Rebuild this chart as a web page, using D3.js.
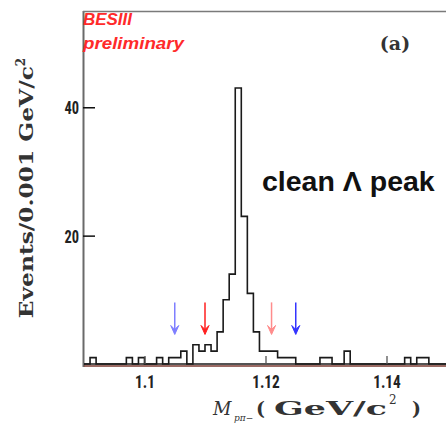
<!DOCTYPE html>
<html><head><meta charset="utf-8">
<script src="https://cdn.jsdelivr.net/npm/d3@7"></script>
<style>body{margin:0;background:#fff}</style>
</head><body><svg id="c" width="446" height="425"></svg>
<script>
// ---- data ----
const binStarts = [1.090,1.091,1.092,1.093,1.094,1.095,1.096,1.097,1.098,1.099,
                   1.100,1.101,1.102,1.103,1.104,1.105,1.106,1.107,1.108,1.109,
                   1.110,1.111,1.112,1.113,1.114,1.115,1.116,1.117,1.118,1.119,
                   1.120,1.121,1.122,1.123,1.124,1.125,1.126,1.127,1.128,1.129,
                   1.130,1.131,1.132,1.133,1.134,1.135,1.136,1.137,1.138,1.139,
                   1.140,1.141,1.142,1.143,1.144,1.145,1.146,1.147,1.148,1.149];
const counts    = [0,1,0,0,0,0,0,1,0,1,
                   0,0,1,0,1,1,2,0,3,2,
                   3,2,5,10,14,43,23,11,5,2,
                   2,2,1,1,1,0,0,0,0,1,
                   1,0,0,2,0,0,0,0,0,0,
                   0,0,0,1,0,1,1,0,0,0];
const binWidth = 0.001;
const xTicks = [1.10, 1.12, 1.14];
const xTickLabels = ["1.1", "1.12", "1.14"];
const yTicks = [20, 40];
const arrowX = [1.105, 1.110, 1.121, 1.125];
const arrowColors = ["#7f7fff", "#ff1f1f", "#ff8c8c", "#3434ff"];
const arrowTop = 9.6, arrowBottom = 4.6;

// ---- layout ----
const svg = d3.select("#c");
const x = d3.scaleLinear().domain([1.09, 1.15]).range([84, 447]);
const y = d3.scaleLinear().domain([0, 55]).range([364, 11]);

// frame
svg.append("line").attr("x1", 83.5).attr("x2", 83.5).attr("y1", 11).attr("y2", 367)
  .attr("stroke", "#6a6a6a").attr("stroke-width", 2);
svg.append("line").attr("x1", 83).attr("x2", 446).attr("y1", 11.5).attr("y2", 11.5)
  .attr("stroke", "#7a7a7a").attr("stroke-width", 1.5);
svg.append("line").attr("x1", 84).attr("x2", 446).attr("y1", 366).attr("y2", 366)
  .attr("stroke", "#7a3a30").attr("stroke-width", 1.4);

// histogram
const pts = [[x(binStarts[0]), y(0)]];
binStarts.forEach((b, i) => {
  pts.push([x(b), y(counts[i])]);
  pts.push([x(b + binWidth), y(counts[i])]);
});
pts.push([x(binStarts[binStarts.length - 1] + binWidth), y(0)]);
svg.append("path").attr("d", d3.line()(pts)).attr("fill", "none")
  .attr("stroke", "#1a1a1a").attr("stroke-width", 1.6);
svg.append("line").attr("x1", x(1.09)).attr("x2", 446).attr("y1", y(0)).attr("y2", y(0))
  .attr("stroke", "#1a1a1a").attr("stroke-width", 1.6);

// narrow the tick labels like the condensed original font
function narrow(sel, f) {
  sel.each(function () {
    const w = this.getComputedTextLength();
    d3.select(this).attr("textLength", w * f).attr("lengthAdjust", "spacingAndGlyphs");
  });
}

// y axis ticks
const tickFont = "'Liberation Sans Narrow','Roboto Condensed','DejaVu Sans Condensed',sans-serif";
const yAxis = d3.axisRight(y).tickValues(yTicks).tickSize(12).tickFormat(d3.format("d"));
const gy = svg.append("g").attr("transform", "translate(83,0)").call(yAxis);
gy.select(".domain").remove();
gy.selectAll("line").attr("stroke", "#111").attr("stroke-width", 1.5);
gy.selectAll("text").attr("x", -4).attr("dy", "0.36em").attr("text-anchor", "end")
  .attr("font-family", tickFont).attr("font-weight", "bold").attr("font-size", 18).attr("fill", "#222")
  .call(narrow, 0.8);

// x axis ticks
const xAxis = d3.axisTop(x).tickValues(xTicks).tickSize(8).tickFormat((d, i) => xTickLabels[i]);
const gx = svg.append("g").attr("transform", `translate(0,${y(0)})`).call(xAxis);
gx.select(".domain").remove();
gx.selectAll("line").attr("stroke", "#555").attr("stroke-width", 1.3);
gx.selectAll("text").attr("y", 24).attr("dy", 0).attr("text-anchor", "middle")
  .attr("font-family", tickFont).attr("font-weight", "bold").attr("font-size", 18).attr("fill", "#222")
  .call(narrow, 0.85);

// arrows
arrowX.forEach((a, i) => {
  const ax = x(a), yt = y(arrowTop), yb = y(arrowBottom);
  const g = svg.append("g").attr("stroke", arrowColors[i]).attr("fill", arrowColors[i]);
  g.append("line").attr("x1", ax).attr("x2", ax).attr("y1", yt).attr("y2", yb - 3).attr("stroke-width", 1.5);
  g.append("path").attr("d", `M${ax - 4},${yb - 9} L${ax},${yb} L${ax + 4},${yb - 9} L${ax},${yb - 5} Z`)
    .attr("stroke-width", 1);
});

// texts
const serif = "'DejaVu Serif','Liberation Serif',serif";
svg.append("text").attr("x", 83).attr("y", 25).text("BESIII")
  .attr("textLength", 49).attr("lengthAdjust", "spacingAndGlyphs")
  .attr("font-family", "'Liberation Sans',Arial,sans-serif").attr("font-weight", "bold")
  .attr("font-style", "italic").attr("font-size", 16.5).attr("fill", "#ff2a2a");
svg.append("text").attr("x", 83).attr("y", 49).text("preliminary")
  .attr("textLength", 101).attr("lengthAdjust", "spacingAndGlyphs")
  .attr("font-family", "'Liberation Sans',Arial,sans-serif").attr("font-weight", "bold")
  .attr("font-style", "italic").attr("font-size", 17).attr("fill", "#ff2a2a");
svg.append("text").attr("x", 395).attr("y", 50).attr("text-anchor", "middle").text("(a)")
  .attr("font-family", serif).attr("font-weight", "bold").attr("font-size", 19).attr("fill", "#333");
svg.append("text").attr("x", 262).attr("y", 191).text("clean \u039B peak")
  .attr("font-family", "'Liberation Sans',Arial,sans-serif").attr("font-weight", "bold")
  .attr("font-size", 28.5).attr("fill", "#111");

// y title
const yt = svg.append("text").attr("transform", "translate(33,188) rotate(-90)")
  .attr("text-anchor", "middle").attr("font-family", serif).attr("font-weight", "bold")
  .attr("font-size", 19).attr("fill", "#333");
yt.append("tspan").text("Events/0.001 GeV/c").attr("textLength", 252).attr("lengthAdjust", "spacingAndGlyphs");
yt.append("tspan").text("2").attr("font-size", 12).attr("dy", -8);

// x title
svg.append("text").attr("x", 213).attr("y", 415).text("M").attr("font-family", serif)
  .attr("font-style", "italic").attr("font-size", 18).attr("fill", "#333");
svg.append("text").attr("x", 234).attr("y", 421).text("p\u03C0\u2212").attr("font-family", serif)
  .attr("font-style", "italic").attr("font-size", 9).attr("fill", "#333");
svg.append("text").attr("x", 256).attr("y", 415).text("(").attr("font-family", serif)
  .attr("font-weight", "bold").attr("font-size", 19).attr("fill", "#333");
svg.append("text").attr("x", 274).attr("y", 415).text("GeV/c").attr("textLength", 113)
  .attr("lengthAdjust", "spacingAndGlyphs").attr("font-family", serif)
  .attr("font-weight", "bold").attr("font-size", 19).attr("fill", "#333");
svg.append("text").attr("x", 389).attr("y", 404).text("2").attr("font-family", serif)
  .attr("font-size", 12).attr("fill", "#333");
svg.append("text").attr("x", 412).attr("y", 415).text(")").attr("font-family", serif)
  .attr("font-weight", "bold").attr("font-size", 19).attr("fill", "#333");
</script>
</body></html>
